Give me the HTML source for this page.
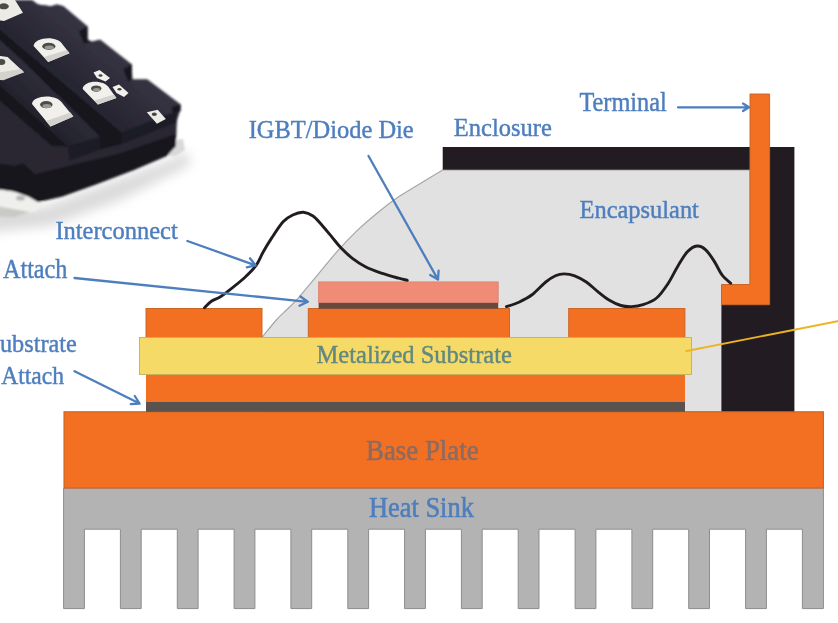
<!DOCTYPE html>
<html><head><meta charset="utf-8">
<style>
html,body{margin:0;padding:0;background:#fff;}
body{width:838px;height:623px;overflow:hidden;}
svg{display:block;}
text{font-family:"Liberation Serif",serif;font-size:27.5px;fill:#4e7ebe;stroke:#4e7ebe;stroke-width:0.45px;}
</style></head><body>
<svg width="838" height="623" viewBox="0 0 838 623">
<defs>
<filter id="b1" x="-5%" y="-5%" width="110%" height="110%"><feGaussianBlur stdDeviation="0.7"/></filter>
<filter id="bt" x="-5%" y="-20%" width="110%" height="140%"><feGaussianBlur stdDeviation="0.65"/></filter>
<filter id="bp" x="-10%" y="-10%" width="120%" height="120%"><feGaussianBlur stdDeviation="1.2"/></filter>
<filter id="bp2" x="-20%" y="-20%" width="140%" height="140%"><feGaussianBlur stdDeviation="3"/></filter>
<filter id="bp3" x="-30%" y="-30%" width="160%" height="160%"><feGaussianBlur stdDeviation="6"/></filter>
</defs>
<rect width="838" height="623" fill="#fff"/>
<g id="photo">
<linearGradient id="gA" gradientUnits="userSpaceOnUse" x1="110" y1="40" x2="60" y2="100"><stop offset="0" stop-color="#373545"/><stop offset="1" stop-color="#22212b"/></linearGradient>
<linearGradient id="gB" gradientUnits="userSpaceOnUse" x1="50" y1="80" x2="20" y2="115"><stop offset="0" stop-color="#302f3c"/><stop offset="1" stop-color="#201f28"/></linearGradient>
<!-- soft shadow under module -->
<g filter="url(#bp3)" opacity="0.36">
<path d="M-10,196 L40,208 L175,158 L186,150 L190,165 L120,200 L50,226 L-10,232 Z" fill="#9a9a9a"/>
</g>
<g filter="url(#bp)">
<!-- flange / baseplate (light metal) -->
<path d="M-10,188 L16,190 L44,203 L36,211 L14,216 L-10,214 Z" fill="#efefed"/>
<path d="M-10,205 L30,212 L14,217 L-10,216 Z" fill="#c9c9c7"/>
<ellipse cx="20.5" cy="198" rx="4.5" ry="2.6" fill="#b5b5b3"/>
<path d="M174,140 L183,139 L185,150 L176,156 L168,156 Z" fill="#d9d9d7"/>
<!-- body silhouette -->
<path d="M-10,0 L31.7,0 L38,4.5 L51,6.3 L57,4.4 L63.4,6.3 L87.5,26.6 L87.5,39.5 L91.3,41.8 L100.1,39.7 L131.8,64.4 L132.2,79.6 L147.3,79.5 L180.5,104.6 L180.5,110.5 L177,115.6 L175.8,146 L167,155.8 L133.7,170 L95.5,184.4 L62,196.4 L38,202 L28.6,196.4 L14.3,191.6 L-10,188 Z" fill="#15141b"/>
<!-- bar A top face -->
<path d="M-10,0 L31.7,0 L38,4.5 L51,6.3 L57,4.4 L63.4,6.3 L87.5,26.6 L87.5,39.5 L91.3,41.8 L100.1,39.7 L131.8,64.4 L132.2,79.6 L147.3,79.5 L180.5,104.6 L180,110 L121.3,132.4 L-10,21.5 Z" fill="url(#gA)"/>
<path d="M79,31 L87.5,26.6 L87.5,39.5 L91.3,41.8 L84,43.5 Z" fill="#15141b"/>
<path d="M123.5,69 L131.8,64.4 L132.2,79.6 L128,81.5 Z" fill="#15141b"/>
<path d="M172,107 L180.5,104.6 L180.5,110.5 L177,115.6 L173,114 Z" fill="#15141b"/>
<!-- bar B top face -->
<path d="M-10,31 L21.9,60 L100.3,136.8 L68,146.5 L-10,77 Z" fill="url(#gB)"/>
<!-- shoulder (lower-left top surface) + ledge -->
<path d="M-10,92 L52,146 L68,146.5 L69.5,160.3 L100.8,149.2 L122,144 L176.5,122 L175,134.5 L120,153.4 L34.7,174.5 L23.5,163.4 L15,166 L-10,162.5 Z" fill="#292833"/>
<!-- front faces of bars -->
<path d="M68,146.5 L100.3,136.8 L100.8,149.2 L69.5,160.3 Z" fill="#1d1c25"/>
<path d="M121.3,132.4 L180,110 L176.5,122 L122,144 Z" fill="#1f1e28"/>
<!-- lower front band + chamfer -->
<path d="M-10,162.5 L15,166 L23.5,163.4 L34.7,174.5 L120,153.4 L175,134.5 L175.8,146 L167,155.8 L133.7,170 L95.5,184.4 L62,196.4 L38,202 L28.6,196.4 L14.3,191.6 L-10,186 Z" fill="#19181e"/>
</g>
<g filter="url(#b1)">
<!-- terminals -->
<path d="M-10,0 L15,0 L23,12.7 L4,21 L-10,19 Z" fill="#ecebe6"/>
<ellipse cx="3.8" cy="6.3" rx="5" ry="3" fill="#4b4b46"/>
<path d="M33.6,46 C34,37 58,34.5 63,45 L69.5,53.3 L48.2,62.1 Z" fill="#f1f0ec"/>
<path d="M44,57 L67,50 L69.5,53.3 L48.2,62.1 Z" fill="#d4d2cc"/>
<ellipse cx="48.8" cy="46.3" rx="6.6" ry="3.6" fill="#4b4b46"/>
<ellipse cx="49.3" cy="47.6" rx="4.6" ry="2" fill="#9a9a94"/>
<path d="M-10,54.5 L7.6,57 L24,72.3 L12.7,76 L-10,80 Z" fill="#ecebe6"/>
<path d="M-10,74 L21,69 L24,72.3 L3.4,80.2 L-10,79 Z" fill="#d4d2cc"/>
<ellipse cx="1.3" cy="62" rx="4" ry="3" fill="#4b4b46"/>
<path d="M32,104 C32.5,95 57,93 63,104 L73.3,116.4 L50.5,126.5 Z" fill="#f1f0ec"/>
<path d="M46,121 L70.5,112.5 L73.3,116.4 L50.5,126.5 Z" fill="#d4d2cc"/>
<ellipse cx="46.3" cy="104.6" rx="6.2" ry="3.6" fill="#4b4b46"/>
<ellipse cx="46.8" cy="105.9" rx="4.4" ry="2" fill="#9a9a94"/>
<path d="M82.7,89 C83,80.5 104,78.5 109.5,88.5 L116.4,97.9 L97.9,104.6 Z" fill="#f1f0ec"/>
<path d="M94.5,100.5 L114,94.5 L116.4,97.9 L97.9,104.6 Z" fill="#d4d2cc"/>
<ellipse cx="96.2" cy="88.6" rx="5.2" ry="3.2" fill="#4b4b46"/>
<ellipse cx="96.6" cy="89.7" rx="3.6" ry="1.7" fill="#9a9a94"/>
<!-- small tabs -->
<path d="M93.5,72.5 L99.5,70 L110,78 L105.5,81.5 L97,78 Z" fill="#f2f1ed"/>
<ellipse cx="100.5" cy="75.5" rx="2" ry="1.3" fill="#44443f"/>
<path d="M112.5,87 L119,84.5 L128.5,93 L124,97 L116.5,93 Z" fill="#f2f1ed"/>
<ellipse cx="119.5" cy="89.3" rx="2" ry="1.3" fill="#44443f"/>
<path d="M146.8,112.2 L157.7,109.7 L165.8,119 L156.9,123.7 Z" fill="#ecebe6"/>
<ellipse cx="154.3" cy="114.2" rx="2.6" ry="1.7" fill="#44443f"/>
</g>
</g>

<g id="diagram" filter="url(#b1)">
<path d="M442.6,170 L750,170 L750,285 L722,285 L722,412 L262,412 L262.0,337.5 C264.4,334.6 272.1,324.7 276.3,320.0 C280.5,315.3 283.3,313.2 287.0,309.5 C290.7,305.8 293.4,303.6 298.5,297.8 C303.6,292.0 311.4,282.4 317.8,274.7 C324.2,267.0 330.6,258.8 337.0,251.6 C343.4,244.4 349.9,237.6 356.3,231.4 C362.7,225.2 369.1,219.8 375.5,214.5 C381.9,209.2 387.4,204.5 394.8,199.4 C402.2,194.3 412.0,188.6 420.0,183.7 C428.0,178.8 438.8,172.3 442.6,170.0 Z" fill="#e1e1e1" stroke="#a6a6a6" stroke-width="1.2"/>
<path d="M442.7,147 L794.4,147 L794.4,412 L721.5,412 L721.5,300 L769,300 L769,169.8 L442.7,169.8 Z" fill="#231f20"/>
<path d="M750,94 L769.6,94 L769.6,304.7 L721.5,304.7 L721.5,284.5 L750,284.5 Z" fill="#f37021" stroke="#cc6628" stroke-width="1"/>
<path d="M63.6,488.2 L823.4,488.2 L823.4,608.6 L823.2,608.6 L802.4,608.6 L802.4,529.2 L766.4,529.2 L766.4,608.6 L766.4,608.6 L745.6,608.6 L745.6,529.2 L709.5,529.2 L709.5,608.6 L709.5,608.6 L688.7,608.6 L688.7,529.2 L652.7,529.2 L652.7,608.6 L652.7,608.6 L631.9,608.6 L631.9,529.2 L595.9,529.2 L595.9,608.6 L595.9,608.6 L575.1,608.6 L575.1,529.2 L539.0,529.2 L539.0,608.6 L539.0,608.6 L518.2,608.6 L518.2,529.2 L482.2,529.2 L482.2,608.6 L482.2,608.6 L461.4,608.6 L461.4,529.2 L425.4,529.2 L425.4,608.6 L425.4,608.6 L404.6,608.6 L404.6,529.2 L368.6,529.2 L368.6,608.6 L368.6,608.6 L347.8,608.6 L347.8,529.2 L311.7,529.2 L311.7,608.6 L311.7,608.6 L290.9,608.6 L290.9,529.2 L254.9,529.2 L254.9,608.6 L254.9,608.6 L234.1,608.6 L234.1,529.2 L198.1,529.2 L198.1,608.6 L198.1,608.6 L177.3,608.6 L177.3,529.2 L141.2,529.2 L141.2,608.6 L141.2,608.6 L120.4,608.6 L120.4,529.2 L84.4,529.2 L84.4,608.6 L84.4,608.6 L63.6,608.6 Z" fill="#b4b3b3" stroke="#8e8d8d" stroke-width="1"/>
<rect x="64" y="411.8" width="759.4" height="76.2" fill="#f37021" stroke="#c86427" stroke-width="1.1"/>
<rect x="146" y="401.8" width="539" height="10" fill="#58524f"/>
<rect x="146" y="374" width="539" height="28" fill="#f37021"/>
<rect x="146" y="308.5" width="116" height="29" fill="#f37021" stroke="#cc6628" stroke-width="1"/>
<rect x="308.3" y="308.5" width="201.2" height="29" fill="#f37021" stroke="#cc6628" stroke-width="1"/>
<rect x="568.7" y="308.5" width="116.2" height="29" fill="#f37021" stroke="#cc6628" stroke-width="1"/>
<rect x="139.5" y="337.5" width="552" height="37" fill="#f6da67" stroke="#c4b15c" stroke-width="0.9"/>
<rect x="318.6" y="302.4" width="179.6" height="6.4" fill="#6a4a3c"/>
<rect x="318.6" y="281.9" width="179.6" height="20.7" fill="#f08b76" stroke="#d98270" stroke-width="0.8"/>
<g fill="none" stroke="#231f20" stroke-width="2.9" stroke-linecap="round">
<path d="M204.5,307.8 C205.6,306.8 208.4,303.3 211.0,301.5 C213.6,299.7 217.1,298.9 220.0,297.1 C222.9,295.3 224.6,293.8 228.7,290.6 C232.8,287.4 239.9,281.9 244.5,277.7 C249.1,273.5 253.0,269.7 256.1,265.4 C259.2,261.1 260.7,256.2 263.3,251.7 C265.9,247.1 268.3,243.1 271.6,238.1 C274.9,233.1 279.6,225.7 283.1,221.8 C286.6,218.0 289.3,216.6 292.7,215.0 C296.1,213.4 299.9,212.1 303.3,212.3 C306.7,212.5 309.9,213.9 313.0,216.0 C316.1,218.1 318.6,221.3 321.6,224.7 C324.6,228.1 328.0,232.3 331.2,236.2 C334.4,240.0 337.4,244.1 340.9,247.8 C344.4,251.5 348.2,255.1 352.4,258.3 C356.6,261.5 360.8,264.4 365.9,267.0 C371.0,269.6 377.8,271.8 383.2,273.7 C388.6,275.6 394.6,277.1 398.6,278.2 C402.6,279.3 405.9,279.9 407.3,280.3"/>
<path d="M506.4,306.6 C508.5,305.9 514.6,304.2 518.9,302.2 C523.2,300.2 527.9,297.9 532.4,294.5 C536.9,291.1 541.9,285.1 545.8,282.0 C549.6,278.9 552.5,277.2 555.5,275.8 C558.5,274.4 560.9,273.9 564.1,273.9 C567.3,273.9 571.0,274.4 574.7,275.8 C578.4,277.2 582.4,279.4 586.3,282.0 C590.1,284.6 593.9,288.6 597.8,291.6 C601.6,294.7 605.5,298.0 609.4,300.3 C613.2,302.6 617.2,304.4 620.9,305.5 C624.6,306.6 627.9,306.7 631.6,306.6 C635.3,306.5 638.9,306.1 643.1,304.7 C647.3,303.3 652.4,301.5 656.6,298.0 C660.8,294.5 664.6,288.8 668.1,283.5 C671.6,278.2 674.6,271.5 677.8,266.2 C681.0,260.9 684.2,255.2 687.4,251.8 C690.6,248.4 694.0,246.3 697.0,246.0 C700.0,245.7 702.8,247.2 705.7,249.8 C708.6,252.4 711.6,257.2 714.3,261.4 C717.0,265.6 719.3,271.3 722.0,274.9 C724.7,278.5 729.2,281.8 730.7,283.2"/>
</g>
<line x1="685.5" y1="351.2" x2="840" y2="320.7" stroke="#eeb324" stroke-width="1.9"/>
<g stroke="#4e7ebe" stroke-width="2.3" fill="none" stroke-linecap="round" stroke-linejoin="round">
<path d="M678,107.3 L749,107.3 M743,103.6 L749,107.3 L743,111"/>
<path d="M368.5,156 L438,279.6 M438.6,270.6 L438,279.6 L430.2,275"/>
<path d="M187.4,241 L255.5,265.3 M246.8,267.3 L255.5,265.3 L250,258.3"/>
<path d="M74.5,278 L307.8,301.8 M299.5,305.7 L307.8,301.8 L300.4,296.5"/>
<path d="M74.5,371.3 L139.6,403.5 M130.8,404.2 L139.6,403.5 L134.8,396"/>
</g>
</g>
<g id="labels" filter="url(#bt)">
<text x="248.7" y="137.9" textLength="165" lengthAdjust="spacingAndGlyphs" style="font-size:25.8px">IGBT/Diode Die</text>
<text x="453.8" y="135.8" textLength="98" lengthAdjust="spacingAndGlyphs" style="font-size:26px">Enclosure</text>
<text x="579.4" y="111.4" textLength="87.4" lengthAdjust="spacingAndGlyphs" style="font-size:26.6px">Terminal</text>
<text x="579.5" y="218.2" textLength="119.4" lengthAdjust="spacingAndGlyphs" style="font-size:25.6px">Encapsulant</text>
<text x="55.4" y="238.6" textLength="122.4" lengthAdjust="spacingAndGlyphs" style="font-size:26px">Interconnect</text>
<text x="2.9" y="277.5" textLength="64.6" lengthAdjust="spacingAndGlyphs" style="font-size:26.5px">Attach</text>
<text x="-13.5" y="352.2" textLength="90.3" lengthAdjust="spacingAndGlyphs" style="font-size:25.5px">Substrate</text>
<text x="1.2" y="384" textLength="62.8" lengthAdjust="spacingAndGlyphs" style="font-size:25.5px">Attach</text>
<text x="316.5" y="362.9" textLength="195.4" lengthAdjust="spacingAndGlyphs" style="fill:#62897f;stroke:#62897f;font-size:24.9px">Metalized Substrate</text>
<text x="366" y="459.5" textLength="112.6" lengthAdjust="spacingAndGlyphs" style="fill:#8e6a60;stroke:#8e6a60;stroke-width:0.6px;font-size:29px">Base Plate</text>
<text x="368.9" y="517.2" textLength="105" lengthAdjust="spacingAndGlyphs" style="font-size:28.4px;stroke-width:0.6px">Heat Sink</text>
</g>
</svg>
</body></html>
